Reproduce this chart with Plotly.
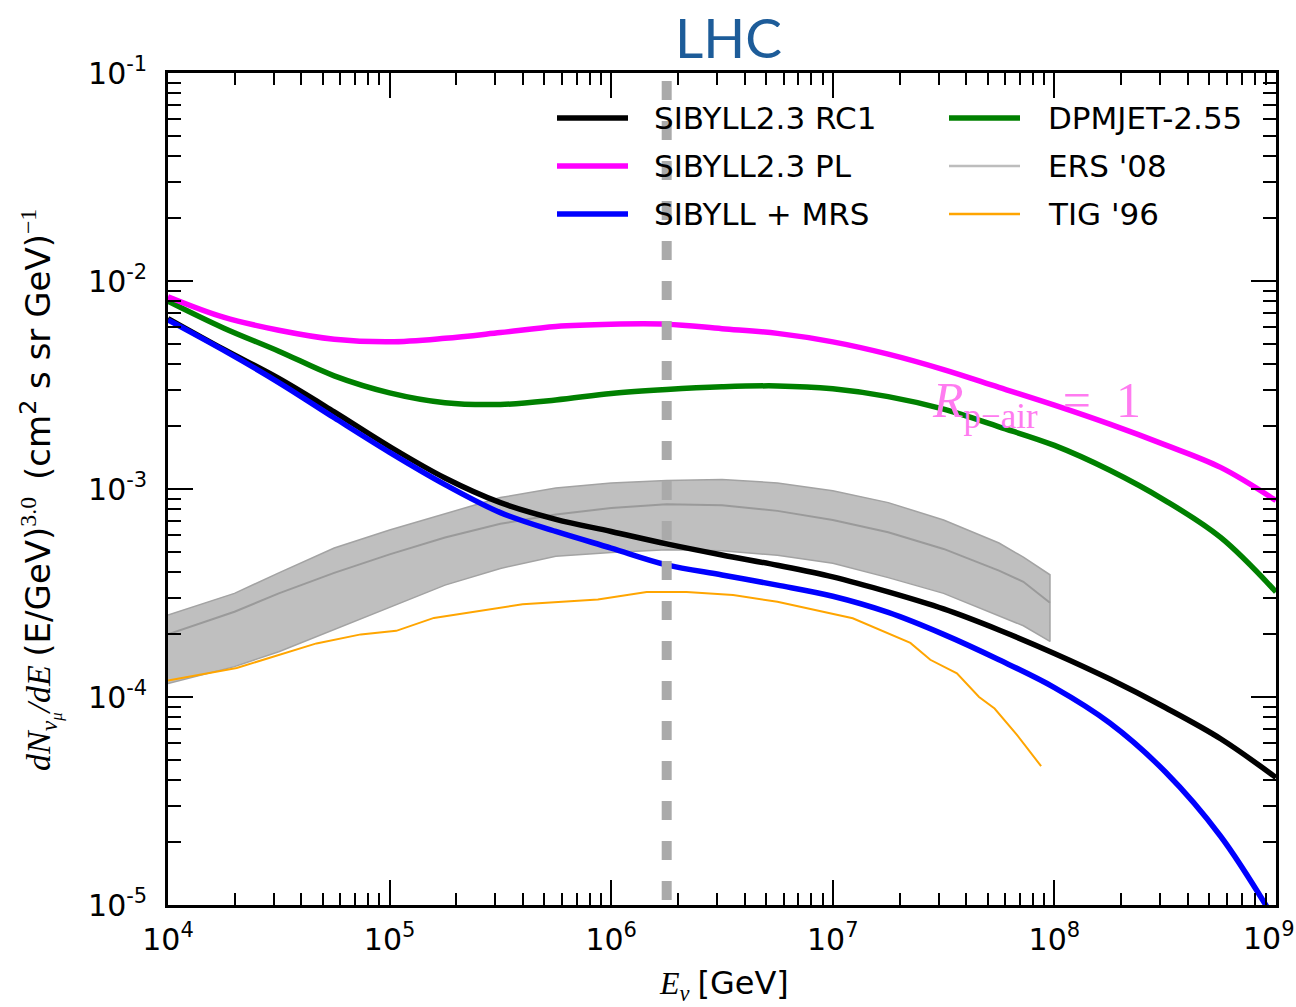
import numpy as np
import plotly.graph_objects as go

# ---------------------------------------------------------------------------
# Data: E^3-weighted atmospheric nu_mu fluxes (energies as log10(E/GeV))
# ---------------------------------------------------------------------------
LOG10_E_MODELS = [4.0, 4.25, 4.5, 4.75, 5.0, 5.25, 5.5, 5.75, 6.0, 6.25, 6.5,
                  6.75, 7.0, 7.25, 7.5, 7.75, 8.0, 8.25, 8.5, 8.75, 9.0]

SIBYLL23_RC1 = [6.6e-3, 4.7e-3, 3.4e-3, 2.35e-3, 1.6e-3, 1.13e-3, 8.6e-4,
                7.15e-4, 6.25e-4, 5.45e-4, 4.82e-4, 4.3e-4, 3.78e-4, 3.2e-4,
                2.65e-4, 2.1e-4, 1.62e-4, 1.22e-4, 8.9e-5, 6.3e-5, 4.1e-5]

SIBYLL23_PL = [8.4e-3, 6.7e-3, 5.8e-3, 5.25e-3, 5.1e-3, 5.3e-3, 5.65e-3,
               6.05e-3, 6.2e-3, 6.2e-3, 5.9e-3, 5.6e-3, 5.1e-3, 4.45e-3,
               3.75e-3, 3.08e-3, 2.53e-3, 2.05e-3, 1.63e-3, 1.27e-3, 8.8e-4]

SIBYLL_MRS = [6.5e-3, 4.65e-3, 3.25e-3, 2.2e-3, 1.5e-3, 1.05e-3, 7.7e-4,
              6.25e-4, 5.2e-4, 4.32e-4, 3.86e-4, 3.45e-4, 3.05e-4, 2.55e-4,
              2.0e-4, 1.51e-4, 1.11e-4, 7.5e-5, 4.37e-5, 2.14e-5, 8.3e-6]

DPMJET_255 = [8.0e-3, 5.95e-3, 4.6e-3, 3.5e-3, 2.9e-3, 2.6e-3, 2.55e-3,
              2.68e-3, 2.88e-3, 3.01e-3, 3.1e-3, 3.13e-3, 3.03e-3, 2.78e-3,
              2.42e-3, 1.99e-3, 1.62e-3, 1.23e-3, 8.8e-4, 5.85e-4, 3.2e-4]

LOG10_E_ERS = [4.0, 4.3, 4.5, 4.75, 5.0, 5.25, 5.5, 5.75, 6.0, 6.25, 6.5,
               6.75, 7.0, 7.25, 7.5, 7.75, 7.86, 7.98]
ERS08_CENTRAL = [2.0e-4, 2.57e-4, 3.15e-4, 3.95e-4, 4.85e-4, 5.85e-4, 6.8e-4,
                 7.55e-4, 8.1e-4, 8.45e-4, 8.35e-4, 7.85e-4, 7.1e-4, 6.2e-4,
                 5.15e-4, 4.05e-4, 3.58e-4, 2.84e-4]
ERS08_UPPER = [2.48e-4, 3.15e-4, 3.95e-4, 5.2e-4, 6.35e-4, 7.6e-4, 9.1e-4,
               1.01e-3, 1.07e-3, 1.1e-3, 1.11e-3, 1.07e-3, 9.8e-4, 8.6e-4,
               7.1e-4, 5.5e-4, 4.7e-4, 3.87e-4]
ERS08_LOWER = [1.16e-4, 1.4e-4, 1.65e-4, 2.1e-4, 2.7e-4, 3.45e-4, 4.15e-4,
               4.75e-4, 4.95e-4, 5.1e-4, 5.05e-4, 4.8e-4, 4.4e-4, 3.75e-4,
               3.15e-4, 2.45e-4, 2.2e-4, 1.85e-4]

LOG10_E_TIG = [4.0, 4.31, 4.67, 4.87, 5.03, 5.2, 5.6, 5.94, 6.16, 6.34, 6.55,
               6.75, 7.09, 7.23, 7.35, 7.44, 7.56, 7.66, 7.73, 7.83, 7.94]
TIG96 = [1.2e-4, 1.38e-4, 1.81e-4, 2.0e-4, 2.08e-4, 2.4e-4, 2.79e-4, 2.94e-4,
         3.2e-4, 3.2e-4, 3.09e-4, 2.87e-4, 2.39e-4, 2.06e-4, 1.82e-4, 1.51e-4,
         1.3e-4, 1.0e-4, 8.8e-5, 6.6e-5, 4.65e-5]

E_LHC = 1.78e6  # lab-frame energy equivalent of the LHC

X_TICKS = [1e4, 1e5, 1e6, 1e7, 1e8, 1e9]
X_TICKTEXT = ["10<sup>4</sup>", "10<sup>5</sup>", "10<sup>6</sup>",
              "10<sup>7</sup>", "10<sup>8</sup>", "10<sup>9</sup>"]
Y_TICKS = [1e-5, 1e-4, 1e-3, 1e-2, 1e-1]
Y_TICKTEXT = ["10<sup>-5</sup>", "10<sup>-4</sup>", "10<sup>-3</sup>",
              "10<sup>-2</sup>", "10<sup>-1</sup>"]
X_RANGE_LOG = [4, 9]
Y_RANGE_LOG = [-5, -1]

# ---------------------------------------------------------------------------
e_models = [10 ** v for v in LOG10_E_MODELS]
e_ers = [10 ** v for v in LOG10_E_ERS]
e_tig = [10 ** v for v in LOG10_E_TIG]

fig = go.Figure()

# ERS '08 uncertainty band and its central curve
fig.add_trace(go.Scatter(
    x=e_ers + e_ers[::-1], y=ERS08_UPPER + ERS08_LOWER[::-1],
    fill="toself", fillcolor="#bfbfbf", mode="lines",
    line=dict(color="#a3a3a3", width=1.5), name="ERS band", hoverinfo="skip"))
fig.add_trace(go.Scatter(x=e_ers, y=ERS08_CENTRAL, mode="lines",
                         line=dict(color="#9a9a9a", width=2), name="ERS '08"))
fig.add_trace(go.Scatter(x=e_tig, y=TIG96, mode="lines",
                         line=dict(color="#ffa500", width=2), name="TIG '96"))

MODEL_STYLE = [
    ("DPMJET-2.55", DPMJET_255, "#008000"),
    ("SIBYLL2.3 PL", SIBYLL23_PL, "#ff00ff"),
    ("SIBYLL2.3 RC1", SIBYLL23_RC1, "#000000"),
    ("SIBYLL + MRS", SIBYLL_MRS, "#0000ff"),
]
for name, vals, col in MODEL_STYLE:
    fig.add_trace(go.Scatter(x=e_models, y=vals, mode="lines", name=name,
                             line=dict(color=col, width=5.5, shape="spline",
                                       smoothing=1.0)))

# ---------------------------------------------------------------------------
# Frame geometry in pixels
W, H = 1296, 1007
L, R, T, B = 168, 1276, 73, 905


def px_x(px):
    return (px - L) / (R - L)


def px_y(py):
    return (B - py) / (B - T)


minor_x = [m * 10 ** k for k in range(4, 9) for m in range(2, 10)]
minor_y = [m * 10 ** k for k in range(-5, -1) for m in range(2, 10)]

axis_common = dict(
    type="log", showline=True, linecolor="black", linewidth=2.5,
    mirror="ticks", ticks="inside", ticklen=25, tickwidth=2, tickcolor="black",
    showgrid=False, zeroline=False, tickfont=dict(family="DejaVu Sans", size=30),
)

fig.update_layout(
    width=W, height=H, autosize=False,
    margin=dict(l=L, r=W - R, t=T, b=H - B),
    paper_bgcolor="white", plot_bgcolor="white",
    showlegend=False,
    font=dict(family="DejaVu Sans", size=30, color="black"),
    xaxis=dict(axis_common, range=X_RANGE_LOG, tickvals=X_TICKS,
               ticktext=X_TICKTEXT, ticklabelstandoff=6,
               minor=dict(ticks="inside", ticklen=12, tickwidth=1.5,
                          tickcolor="black", tickvals=minor_x, showgrid=False)),
    yaxis=dict(axis_common, range=Y_RANGE_LOG, tickvals=Y_TICKS,
               ticktext=Y_TICKTEXT, ticklabelstandoff=12,
               minor=dict(ticks="inside", ticklen=13, tickwidth=1.5,
                          tickcolor="black", tickvals=minor_y, showgrid=False)),
)

# LHC energy marker (paper x derived from the log axis range)
x_lhc = (np.log10(E_LHC) - X_RANGE_LOG[0]) / (X_RANGE_LOG[1] - X_RANGE_LOG[0])
fig.add_shape(type="line", xref="paper", yref="paper",
              x0=x_lhc, x1=x_lhc, y0=px_y(900), y1=px_y(60), layer="above",
              line=dict(color="#aaaaaa", width=10, dash="19px,21px"))

NB = "\u00a0"
annotations = [
    dict(text="LHC", x=px_x(728), y=px_y(37), xanchor="center", yanchor="middle",
         font=dict(family="Lato", size=55, color="#1d5c99")),
    dict(text=f"<i>R</i><sub>p\u2212air</sub>{NB}{NB}={NB}{NB}1",
         x=px_x(930), y=px_y(404), xanchor="left", yanchor="middle",
         font=dict(family="Liberation Serif", size=50, color="#ff7bf0")),
    dict(text="<i>E</i><sub><i>\u03bd</i></sub> "
              "<span style=\"font-family:DejaVu Sans\">[GeV]</span>",
         x=px_x(724), y=px_y(985), xanchor="center", yanchor="middle",
         font=dict(family="Liberation Serif", size=32)),
    dict(text="<i>dN</i><sub><i>\u03bd</i><sub><i>\u03bc</i></sub></sub><i>/dE</i> "
              "<span style=\"font-family:DejaVu Sans\">(E/GeV)</span>"
              "<sup>3.0</sup>" + NB + NB +
              "<span style=\"font-family:DejaVu Sans\">(cm<sup>2</sup> s sr GeV)</span>"
              "<sup>\u22121</sup>",
         x=px_x(40), y=px_y(490), xanchor="center", yanchor="middle",
         textangle=-90, font=dict(family="Liberation Serif", size=34)),
    # last decade label sits against the right page edge
    dict(text=X_TICKTEXT[-1], x=px_x(W), y=px_y(936), xanchor="right",
         yanchor="middle", borderpad=0,
         font=dict(family="DejaVu Sans", size=30, color="black")),
]

# Two-column legend
legend_rows = [118, 166, 214]
legend_cols = [(557, 628, 652), (949, 1020, 1046)]
legend_items = [
    [("SIBYLL2.3 RC1", "#000000", 5.5), ("SIBYLL2.3 PL", "#ff00ff", 5.5),
     ("SIBYLL + MRS", "#0000ff", 5.5)],
    [("DPMJET-2.55", "#008000", 5.5), ("ERS '08", "#bdbdbd", 2.5),
     ("TIG '96", "#ffa500", 2.5)],
]
for (xa, xb, xt), items in zip(legend_cols, legend_items):
    for row, (label, col, lw) in zip(legend_rows, items):
        fig.add_shape(type="line", xref="paper", yref="paper",
                      x0=px_x(xa), x1=px_x(xb), y0=px_y(row), y1=px_y(row),
                      line=dict(color=col, width=lw))
        annotations.append(dict(text=label, x=px_x(xt), y=px_y(row),
                                xanchor="left", yanchor="middle",
                                font=dict(family="DejaVu Sans", size=31,
                                          color="black")))

for a in annotations:
    a.setdefault("xref", "paper")
    a.setdefault("yref", "paper")
    a.setdefault("showarrow", False)
fig.update_layout(annotations=annotations)

fig.write_html("out.html")
